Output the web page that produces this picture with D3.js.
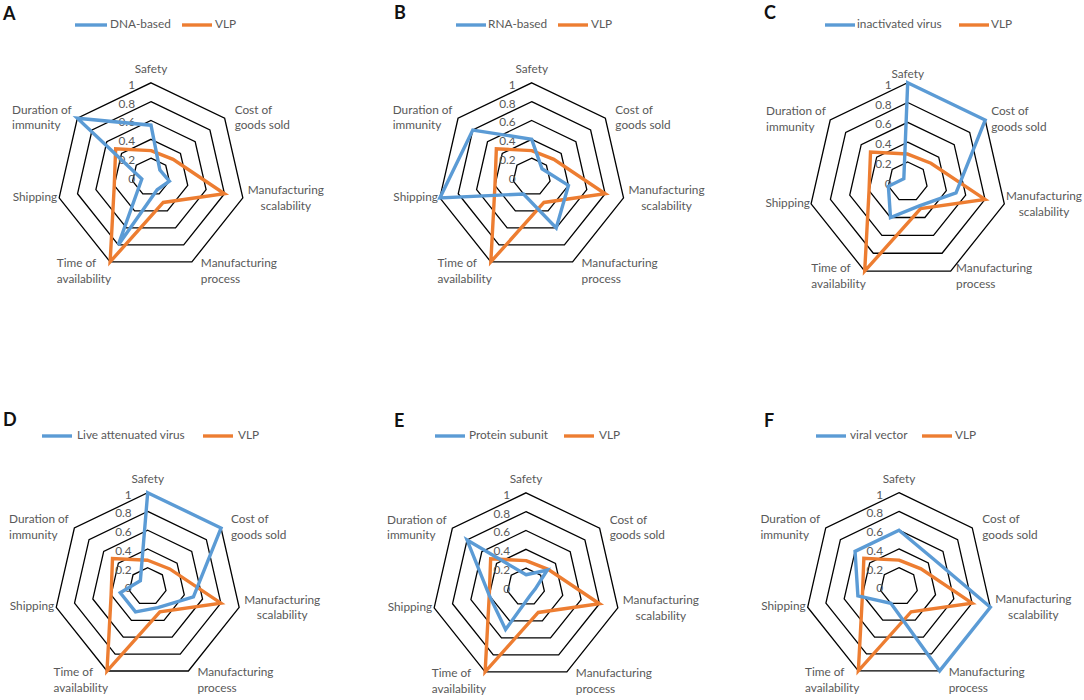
<!DOCTYPE html>
<html>
<head>
<meta charset="utf-8">
<script src="https://cdn.jsdelivr.net/npm/d3@7"></script>
<style>
  html, body { margin: 0; padding: 0; background: #ffffff; }
  svg { display: block; }
  text { font-family: Lato, "Open Sans", sans-serif; }
</style>
</head>
<body>
<svg id="chart" width="1084" height="700"></svg>
<script>
// ---------------- DATA ----------------
const axes = ["Safety", "Cost of goods sold", "Manufacturing scalability", "Manufacturing process",
              "Time of availability", "Shipping", "Duration of immunity"];
const axisLabelLines = [["Safety"], ["Cost of", "goods sold"], ["Manufacturing", "scalability"],
                        ["Manufacturing", "process"], ["Time of", "availability"], ["Shipping"],
                        ["Duration of", "immunity"]];
const tickValues = [0, 0.2, 0.4, 0.6, 0.8, 1];
const tickLabels = ["0", "0.2", "0.4", "0.6", "0.8", "1"];
const panelLetters = ["A", "B", "C", "D", "E", "F"];
const seriesNames = ["DNA-based", "RNA-based", "inactivated virus", "Live attenuated virus",
                     "Protein subunit", "viral vector"];
const vlpName = "VLP";
const vlpValues = [0.28, 0.3, 0.8, 0.3, 1, 0.4, 0.48];
const dnaValues = [0.55, 0.12, 0.2, 0.15, 0.8, 0.1, 1];
const rnaValues = [0.4, 0.14, 0.4, 0.6, 0.2, 1, 0.8];
const inactivatedValues = [1, 1, 0.5, 0.27, 0.4, 0.2, 0.05];
const liveAttenuatedValues = [1, 1, 0.5, 0.25, 0.3, 0.3, 0.1];
const proteinSubunitValues = [0.13, 0.29, 0.1, 0.1, 0.5, 0.4, 0.8];
const viralVectorValues = [0.6, 0.47, 1, 1, 0.2, 0.45, 0.6];
const compareSeries = [dnaValues, rnaValues, inactivatedValues, liveAttenuatedValues,
                       proteinSubunitValues, viralVectorValues];

// ---------------- LAYOUT ----------------
const panelLayout = [
  {cx: 151,   cy: 177,   r: 94.2, gap: 1,   letter: [3, 20],    leg: {y: 25,  b: [75, 107, 110],  o: [182, 212, 215]}},
  {cx: 531.7, cy: 177,   r: 94.2, gap: 1,   letter: [394, 19],  leg: {y: 25,  b: [456, 486, 488], o: [558, 588, 591]}},
  {cx: 907.7, cy: 181.8, r: 99.1, gap: 0.6, letter: [764, 19],  leg: {y: 25,  b: [825, 855, 857], o: [959, 989, 991]}},
  {cx: 147.7, cy: 586.5, r: 93.8, gap: 1,   letter: [3, 426],   leg: {y: 436, b: [42, 72, 77],    o: [203, 233, 238]}},
  {cx: 526,   cy: 587,   r: 94.2, gap: 1,   letter: [394, 427], leg: {y: 436, b: [435, 465, 469], o: [564, 594, 599]}},
  {cx: 899,   cy: 586.4, r: 93.7, gap: 1,   letter: [764, 427], leg: {y: 436, b: [816, 846, 850], o: [922, 952, 955]}}
];
const BLUE = "#5B9BD5", ORANGE = "#ED7D31", LABEL = "#595959";
const FONT = 11.8, LINE_H = 15.5;

const svg = d3.select("#chart");
svg.append("rect").attr("width", 1084).attr("height", 700).attr("fill", "#ffffff");

const angle = d3.scaleLinear().domain([0, axes.length]).range([0, 2 * Math.PI]);

panelLayout.forEach((P, pi) => {
  const g = svg.append("g").attr("transform", `translate(${P.cx},${P.cy})`);
  const rScale = d3.scaleLinear().domain([0, 1]).range([0, P.r]);
  const radial = d3.lineRadial()
    .angle((d, i) => angle(i))
    .radius(d => rScale(d))
    .curve(d3.curveLinearClosed);

  // grid heptagons
  tickValues.filter(t => t > 0).forEach(t => {
    g.append("path")
      .attr("d", radial(axes.map(() => t)))
      .attr("fill", "none").attr("stroke", "#000").attr("stroke-width", 1.3);
  });

  // tick labels
  tickValues.forEach((t, i) => {
    g.append("text")
      .attr("x", -16).attr("y", -rScale(t) + 3)
      .attr("text-anchor", "end").attr("dominant-baseline", "middle")
      .attr("font-size", FONT).attr("fill", LABEL)
      .text(tickLabels[i]);
  });

  // series
  [[vlpValues, ORANGE], [compareSeries[pi], BLUE]].forEach(([vals, col]) => {
    g.append("path")
      .attr("d", radial(vals))
      .attr("fill", "none").attr("stroke", col).attr("stroke-width", 3.4)
      .attr("stroke-linejoin", "miter");
  });

  // axis labels
  axes.forEach((a, k) => {
    const ang = angle(k);
    const vx = Math.sin(ang) * P.r, vy = -Math.cos(ang) * P.r;
    const s = P.gap;
    const lines = axisLabelLines[k];
    const t = g.append("text").attr("font-size", FONT).attr("fill", LABEL);
    const tsp = lines.map(l => t.append("tspan").text(l));
    const widths = tsp.map(ts => ts.node().getComputedTextLength());
    const bw = Math.max(...widths);
    const bh = lines.length * LINE_H;
    let left, cyc, align = "left";
    if (k === 0) { left = vx - bw / 2; cyc = vy - 12.5 * s - 0.5; align = "center"; }
    else if (k === 1) { left = vx + 10 * s; cyc = vy; }
    else if (k === 2) { left = vx + 5 * s; cyc = vy + 1; align = "center"; }
    else if (k === 3) { left = vx + 9 * s; cyc = vy + 10 * s; }
    else if (k === 4) { left = vx + 1 - bw; cyc = vy + 10 * s; }
    else if (k === 5) { left = vx - 2 * s - bw; cyc = vy; }
    else { left = vx - 3 * s - bw; cyc = vy; }
    // keep inside page
    const absRight = P.cx + left + bw;
    if (absRight > 1082) left -= (absRight - 1082);
    tsp.forEach((ts, i) => {
      const x = align === "center" ? left + bw / 2 : left;
      ts.attr("x", x)
        .attr("y", cyc - bh / 2 + LINE_H * (i + 0.5))
        .attr("dominant-baseline", "middle")
        .attr("text-anchor", align === "center" ? "middle" : "start");
    });
  });

  // legend
  const L = P.leg;
  [[L.b, BLUE, seriesNames[pi]], [L.o, ORANGE, vlpName]].forEach(([pos, col, name]) => {
    svg.append("line")
      .attr("x1", pos[0]).attr("x2", pos[1]).attr("y1", L.y).attr("y2", L.y)
      .attr("stroke", col).attr("stroke-width", 3.4);
    svg.append("text")
      .attr("x", pos[2]).attr("y", L.y).attr("dominant-baseline", "middle")
      .attr("font-size", FONT).attr("fill", LABEL).text(name);
  });

  // panel letter
  svg.append("text")
    .attr("x", P.letter[0]).attr("y", P.letter[1])
    .attr("font-family", "'Liberation Sans', Arial, sans-serif")
    .attr("font-weight", "bold").attr("font-size", 18).attr("fill", "#111")
    .text(panelLetters[pi]);
});
</script>
</body>
</html>
